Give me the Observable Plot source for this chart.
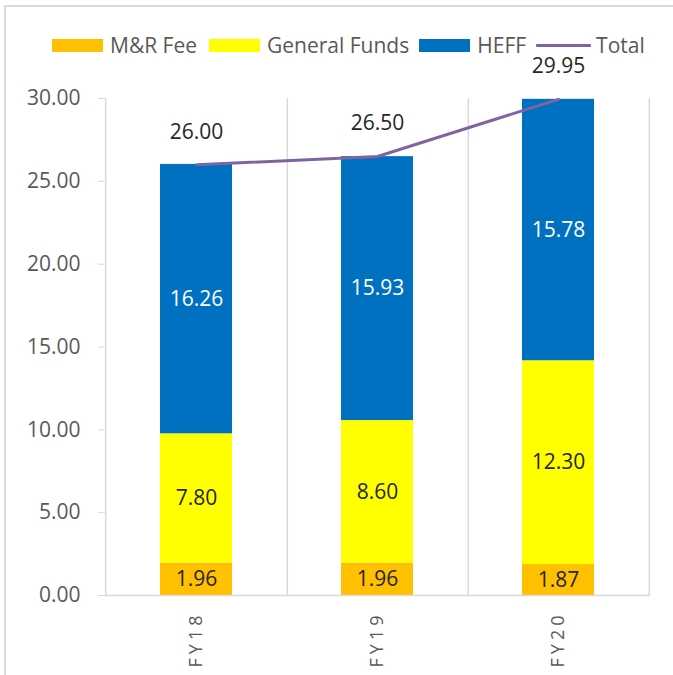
<!DOCTYPE html>
<html><head><meta charset="utf-8">
<script src="https://cdn.jsdelivr.net/npm/d3@7"></script>
<script src="https://cdn.jsdelivr.net/npm/@observablehq/plot@0.6"></script>
<style>
html,body{margin:0;padding:0;background:#fff;overflow:hidden;}
#wrap{position:relative;width:673px;height:675px;overflow:hidden;}
#frame{position:absolute;left:4px;top:5px;width:720px;height:720px;border-top:2px solid #d9d9d9;border-left:2px solid #d9d9d9;}
#legend{position:absolute;left:52px;top:31px;display:flex;align-items:center;font-family:"Open Sans";font-size:21px;color:#595959;white-space:nowrap;z-index:2;}
.item{display:flex;align-items:center;margin-right:10px;}
.item:first-child{margin-right:12px;}
.sw{width:51px;height:13px;margin-right:7px;}
.ln{width:55px;height:3px;margin-right:5px;border-radius:1px;}
#chart{position:absolute;left:0;top:0;}
#chart g[aria-label="x-axis tick label"] text{letter-spacing:4px;}
</style>
</head><body>
<div id="wrap">
  <div id="frame"></div>
  <div id="legend"></div>
  <div id="chart"></div>
</div>
<script>
const years = ["FY18", "FY19", "FY20"];
const seriesNames = ["M&R Fee", "General Funds", "HEFF"];
const mrFee = [1.96, 1.96, 1.87];
const generalFunds = [7.80, 8.60, 12.30];
const heff = [16.26, 15.93, 15.78];
const totals = [26.00, 26.50, 29.95];
const yTicks = [0, 5, 10, 15, 20, 25, 30];
const seriesColors = ["#FFC000", "#FFFF00", "#0070C0"];
const totalColor = "#8064A2";
const totalName = "Total";

const seriesValues = [mrFee, generalFunds, heff];
const rows = years.flatMap((year, i) =>
  seriesNames.map((s, j) => ({year, series: s, value: seriesValues[j][i]})));
const totalRows = years.map((year, i) => ({year, total: totals[i]}));

// legend
const legend = document.getElementById("legend");
seriesNames.forEach((s, j) => {
  const it = document.createElement("div");
  it.className = "item";
  it.innerHTML = `<span class="sw" style="background:${seriesColors[j]}"></span><span>${s.replace("&","&amp;")}</span>`;
  legend.appendChild(it);
});
{
  const it = document.createElement("div");
  it.className = "item";
  it.innerHTML = `<span class="ln" style="background:${totalColor}"></span><span>${totalName}</span>`;
  legend.appendChild(it);
}

const W = 673, H = 675, ML = 105, MR = 23, MT = 98, MB = 80;
const step = (W - ML - MR) / years.length;
const grid = "#d9d9d9";
const dark = "#262626";

const chart = Plot.plot({
  width: W, height: H,
  marginLeft: ML, marginRight: MR, marginTop: MT, marginBottom: MB,
  style: {fontFamily: "Open Sans", fontSize: "21px", overflow: "visible", background: "transparent"},
  x: {domain: years, paddingInner: 0.6, paddingOuter: 0.3, label: null},
  y: {domain: [0, 30], label: null},
  color: {domain: seriesNames, range: seriesColors},
  marks: [
    Plot.ruleX(years, {x: d => d, dx: step / 2, y1: 0, y2: 30, stroke: grid, strokeWidth: 1.5}),
    Plot.ruleX([years[0]], {x: d => d, dx: -step / 2, y1: 0, y2: 30, stroke: grid, strokeWidth: 1.5}),
    Plot.barY(rows, {x: "year", y: "value", z: "series", fill: "series", order: seriesNames}),
    Plot.ruleY([0], {stroke: grid, strokeWidth: 1.5}),
    Plot.axisY({ticks: yTicks, tickFormat: d3.format(".2f"), tickSize: 7, tickPadding: 18, stroke: grid, fill: "#595959", fontSize: 21}),
    Plot.axisX({tickSize: 0, tickRotate: -90, tickPadding: 16, fill: "#595959", fontSize: 18}),
    Plot.text(rows, Plot.stackY({x: "year", y: "value", z: "series", order: seriesNames,
      text: d => d.series === "HEFF" ? "" : d.value.toFixed(2), fill: dark, fontSize: 21})),
    Plot.text(rows, Plot.stackY({x: "year", y: "value", z: "series", order: seriesNames,
      text: d => d.series === "HEFF" ? d.value.toFixed(2) : "", fill: "white", fontSize: 21})),
    Plot.lineY(totalRows, {x: "year", y: "total", stroke: totalColor, strokeWidth: 3}),
    Plot.text(totalRows, {x: "year", y: "total", text: d => d.total.toFixed(2), dy: -33, fill: dark, fontSize: 21})
  ]
});
document.getElementById("chart").appendChild(chart);
</script>
</body></html>
